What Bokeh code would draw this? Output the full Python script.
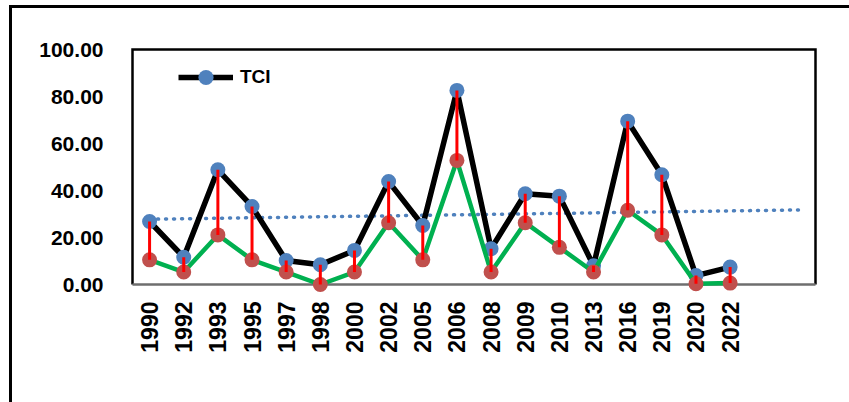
import numpy as np
from bokeh.plotting import figure
from bokeh.layouts import column
from bokeh.models import Range1d, FixedTicker, Legend, LegendItem, ColumnDataSource
from bokeh.embed import file_html
from bokeh.resources import INLINE

# ---------------- data ----------------
years = ["1990", "1992", "1993", "1995", "1997", "1998", "2000", "2002", "2005",
         "2006", "2008", "2009", "2010", "2013", "2016", "2019", "2020", "2022"]
tci = [26.8, 11.6, 48.8, 33.2, 10.2, 8.4, 14.5, 43.8, 25.1,
       82.6, 15.2, 38.6, 37.6, 8.0, 69.5, 46.7, 3.8, 7.4]
index2 = [10.5, 5.3, 21.1, 10.5, 5.3, 0.0, 5.3, 26.3, 10.5,
          52.8, 5.3, 26.3, 15.8, 5.3, 31.6, 21.1, 0.3, 0.6]
y_ticks = [0, 20, 40, 60, 80, 100]
y_tick_labels = ["0.00", "20.00", "40.00", "60.00", "80.00", "100.00"]
forecast_periods = 2  # linear trendline projected forward

# ---------------- layout ----------------
W, H = 849, 402
ML, MT, BW = 9, 5, 3  # outer frame margin / border width (page px)
OX, OY = ML + BW, MT + BW
FW, FH = W - OX, H - OY
SLOT = 34.15          # px per category
UNIT = 2.35           # px per y unit
PAD = 4               # px between frame edge and drawn box
n_slots = len(years) + forecast_periods
frame_left, frame_top = 128 - OX, 45 - OY
frame_w = int(round(n_slots * SLOT + 2 * PAD))
frame_h = 250
x0 = -0.5 - PAD / SLOT
x1 = n_slots - 0.5 + PAD / SLOT
ytop = 100 + PAD / UNIT
ybot = ytop - frame_h / UNIT

FONT = "Liberation Sans"

p = figure(width=FW, height=FH, output_backend="svg", toolbar_location=None,
           x_range=Range1d(x0, x1), y_range=Range1d(ybot, ytop),
           min_border_left=frame_left, min_border_top=frame_top,
           min_border_right=FW - frame_left - frame_w,
           min_border_bottom=FH - frame_top - frame_h)
p.outline_line_color = None
p.grid.visible = False
p.background_fill_color = "white"
p.border_fill_color = "white"

x = list(range(len(years)))
src = ColumnDataSource(dict(x=x, tci=tci, idx2=index2))

# plot-area box: left, top, right edges black, bottom (axis) grey
xl, xr = -0.5, n_slots - 0.5
p.line([xl, xl, xr, xr], [0, 100, 100, 0], line_color="black", line_width=2.5,
       line_join="miter")
p.line([xl, xr], [0, 0], line_color="#6e6e6e", line_width=2.5)

# trendline
coef = np.polyfit(x, tci, 1)
tx = np.arange(n_slots)
p.line(tx, np.polyval(coef, tx), line_color="#4f81bd", line_width=3.5,
       line_dash="1 7", line_cap="round")

# TCI series
l_tci = p.line("x", "tci", source=src, line_color="black", line_width=5.5,
               line_join="round")
m_tci = p.scatter("x", "tci", source=src, size=15, fill_color="#4f81bd",
                  line_color=None)
# second series
p.line("x", "idx2", source=src, line_color="#00b050", line_width=4.5,
       line_join="round")
p.scatter("x", "idx2", source=src, size=15, fill_color="#c0504d", line_color=None)
# high-low lines
p.segment(x0="x", y0="idx2", x1="x", y1="tci", source=src,
          line_color="#ff0000", line_width=3)

# axes
xa = p.xaxis[0]
xa.ticker = FixedTicker(ticks=x)
xa.major_label_overrides = {i: y for i, y in enumerate(years)}
xa.major_label_orientation = np.pi / 2
xa.axis_line_color = None
xa.major_tick_line_color = None
xa.minor_tick_line_color = None
xa.major_label_standoff = 0
xa.major_label_text_font = FONT
xa.major_label_text_font_style = "bold"
xa.major_label_text_font_size = "23px"
xa.major_label_text_color = "black"

ya = p.yaxis[0]
ya.ticker = FixedTicker(ticks=y_ticks)
ya.major_label_overrides = {t: s for t, s in zip(y_ticks, y_tick_labels)}
ya.axis_line_color = None
ya.major_tick_line_color = None
ya.minor_tick_line_color = None
ya.major_label_standoff = 19
ya.major_label_text_font = FONT
ya.major_label_text_font_style = "bold"
ya.major_label_text_font_size = "21px"
ya.major_label_text_color = "black"

legend = Legend(items=[LegendItem(label="TCI", renderers=[l_tci, m_tci])],
                location=(50, 199), glyph_width=55, glyph_height=38,
                label_height=38, padding=0, margin=0, spacing=0,
                label_standoff=7, border_line_color=None,
                background_fill_alpha=0,
                label_text_font=FONT, label_text_font_style="bold",
                label_text_font_size="19px", label_text_color="black")
p.add_layout(legend)

root = column(p, margin=(MT, 0, 0, ML),
              styles={"border-left": f"{BW}px solid black",
                      "border-top": f"{BW}px solid black",
                      "background-color": "white"})

open("out.html", "w").write(file_html(root, INLINE))
